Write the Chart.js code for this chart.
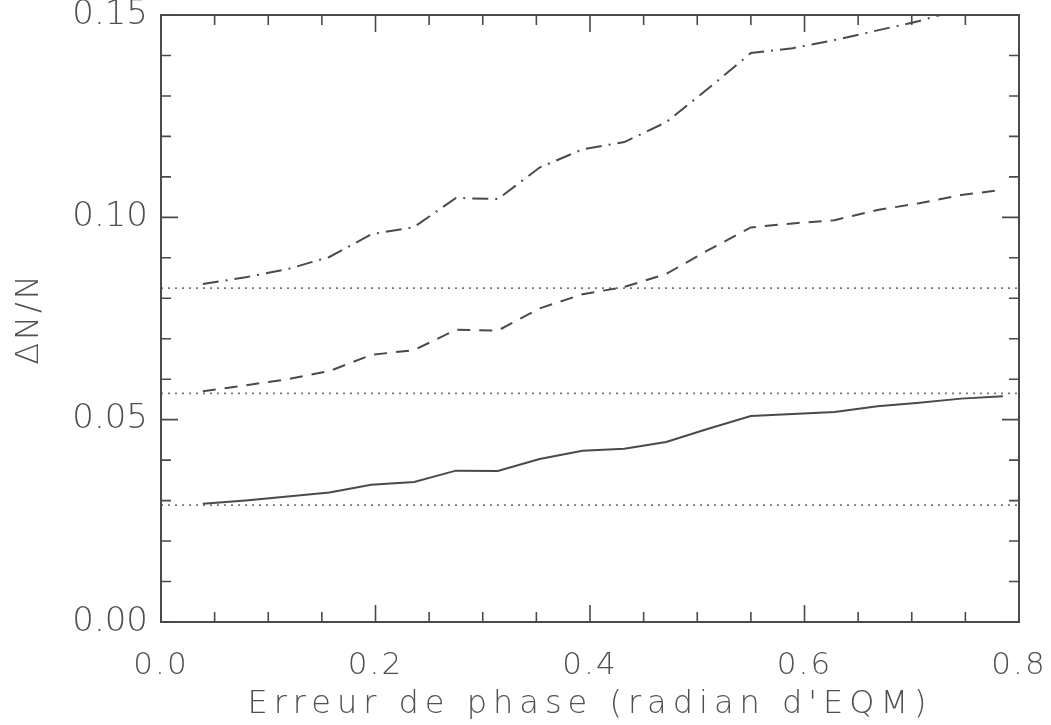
<!DOCTYPE html>
<html lang="fr">
<head>
<meta charset="utf-8">
<title>Erreur de phase</title>
<script src="https://cdn.jsdelivr.net/npm/chart.js"></script>
<style>
  html, body { margin: 0; padding: 0; background: #fff; }
  #wrap { width: 1051px; height: 725px; }
</style>
</head>
<body>
<div id="wrap"><canvas id="chart" width="1051" height="725"></canvas></div>
<script>
// phase error (rad RMS)
const errPhase = [0.039, 0.079, 0.118, 0.157, 0.196, 0.236, 0.275, 0.314, 0.353, 0.393,
                  0.432, 0.471, 0.511, 0.550, 0.589, 0.628, 0.668, 0.707, 0.746, 0.785];
const solid   = [0.0292, 0.0300, 0.0310, 0.0320, 0.0339, 0.0346, 0.0374, 0.0373, 0.0403, 0.0423,
                 0.0428, 0.0445, 0.0478, 0.0509, 0.0514, 0.0519, 0.0533, 0.0542, 0.0552, 0.0558];
const dashed  = [0.0570, 0.0585, 0.0600, 0.0620, 0.0660, 0.0672, 0.0722, 0.0720, 0.0775, 0.0810,
                 0.0828, 0.0860, 0.0920, 0.0975, 0.0985, 0.0993, 0.1018, 0.1035, 0.1055, 0.1068];
const dashDot = [0.0835, 0.0852, 0.0872, 0.0902, 0.0958, 0.0976, 0.1048, 0.1045, 0.1123, 0.1168,
                 0.1186, 0.1235, 0.1320, 0.1406, 0.1418, 0.1438, 0.1462, 0.1485, 0.1515, 0.1545];
// reference levels (dotted)
const refLevels = [0.0289, 0.0565, 0.0825];

const xRange = [0, 0.8];
const yRange = [0, 0.15];
const xMajor = [0, 0.2, 0.4, 0.6, 0.8];
const yMajor = [0, 0.05, 0.10, 0.15];
const xMinor = [0.05, 0.1, 0.15, 0.25, 0.3, 0.35, 0.45, 0.5, 0.55, 0.65, 0.7, 0.75];
const yMinor = [0.01, 0.02, 0.03, 0.04, 0.06, 0.07, 0.08, 0.09, 0.11, 0.12, 0.13, 0.14];

const ink = '#4a4a4a';
const txt = '#505050';
const FONT = "'DejaVu Sans', sans-serif";

const toXY = ys => ys.map((y, i) => ({ x: errPhase[i], y: y }));

const datasets = [
  { data: toXY(solid), borderDash: [] },
  { data: toXY(dashed), borderDash: [13, 9] },
  { data: toXY(dashDot), borderDash: [16, 7, 2, 7] }
].map(d => Object.assign(d, { borderColor: ink, borderWidth: 2, pointRadius: 0, tension: 0, fill: false }));

refLevels.forEach(v => datasets.push({
  data: [{ x: xRange[0], y: v }, { x: xRange[1], y: v }],
  borderColor: '#777', borderWidth: 1.8, borderDash: [2, 5], pointRadius: 0, fill: false
}));

// wide letter spacing like the plotter font
const spacing = (fn, px) => function () {
  this.ctx.letterSpacing = px;
  fn.apply(this, arguments);
  this.ctx.letterSpacing = '0px';
};
const spacingPlugin = {
  id: 'spacing',
  afterLayout(chart) {
    Object.values(chart.scales).forEach(s => {
      if (s._spaced) return;
      s._spaced = true;
      s.drawLabels = spacing(s.drawLabels, s.axis === 'x' ? '2px' : '0px');
      s.drawTitle = spacing(s.drawTitle, s.axis === 'x' ? '6px' : '3px');
    });
  }
};

// frame + inward ticks on all four sides
const framePlugin = {
  id: 'frame',
  afterDatasetsDraw(chart) {
    const { ctx, chartArea: a, scales: { x, y } } = chart;
    ctx.save();
    ctx.strokeStyle = ink;
    ctx.lineWidth = 2;
    ctx.strokeRect(a.left, a.top, a.right - a.left, a.bottom - a.top);
    ctx.lineWidth = 1.6;
    const tickY = (vals, len) => {
      vals.forEach(v => {
        const py = y.getPixelForValue(v);
        ctx.beginPath();
        ctx.moveTo(a.left, py); ctx.lineTo(a.left + len, py);
        ctx.moveTo(a.right, py); ctx.lineTo(a.right - len, py);
        ctx.stroke();
      });
    };
    const tickX = (vals, len) => {
      vals.forEach(v => {
        const px = x.getPixelForValue(v);
        ctx.beginPath();
        ctx.moveTo(px, a.bottom); ctx.lineTo(px, a.bottom - len);
        ctx.moveTo(px, a.top); ctx.lineTo(px, a.top + len);
        ctx.stroke();
      });
    };
    tickY(yMajor, 17); tickY(yMinor, 10);
    tickX(xMajor, 17); tickX(xMinor, 10);
    ctx.restore();
  }
};

new Chart(document.getElementById('chart'), {
  type: 'line',
  data: { datasets },
  options: {
    responsive: false,
    animation: false,
    layout: { padding: { top: 15, right: 32, left: 0, bottom: 0 } },
    plugins: { legend: { display: false }, tooltip: { enabled: false } },
    scales: {
      x: {
        type: 'linear', min: xRange[0], max: xRange[1],
        afterFit: s => { s.height = 103; s.paddingLeft = 0; s.paddingRight = 0; },
        afterBuildTicks: s => { s.ticks = xMajor.map(v => ({ value: v })); },
        grid: { display: false, drawTicks: false },
        border: { display: false },
        ticks: { padding: 25, color: txt, font: { family: FONT, size: 31, weight: 200 },
                 callback: v => v.toFixed(1), maxRotation: 0 },
        title: { display: true, text: "Erreur de phase (radian d'EQM)", color: txt,
                 font: { family: FONT, size: 32, weight: 200 }, padding: { top: 0, bottom: 1 } }
      },
      y: {
        type: 'linear', min: yRange[0], max: yRange[1],
        afterFit: s => { s.width = 161; s.paddingTop = 0; s.paddingBottom = 0; },
        afterBuildTicks: s => { s.ticks = yMajor.map(v => ({ value: v })); },
        grid: { display: false, drawTicks: false },
        border: { display: false },
        ticks: { padding: 13, color: txt, font: { family: FONT, size: 34, weight: 200 },
                 callback: v => v.toFixed(2) },
        title: { display: true, text: 'ΔN/N', color: txt,
                 font: { family: FONT, size: 32, weight: 200 }, padding: { top: 10, bottom: 0 } }
      }
    }
  },
  plugins: [spacingPlugin, framePlugin]
});
</script>
</body>
</html>
